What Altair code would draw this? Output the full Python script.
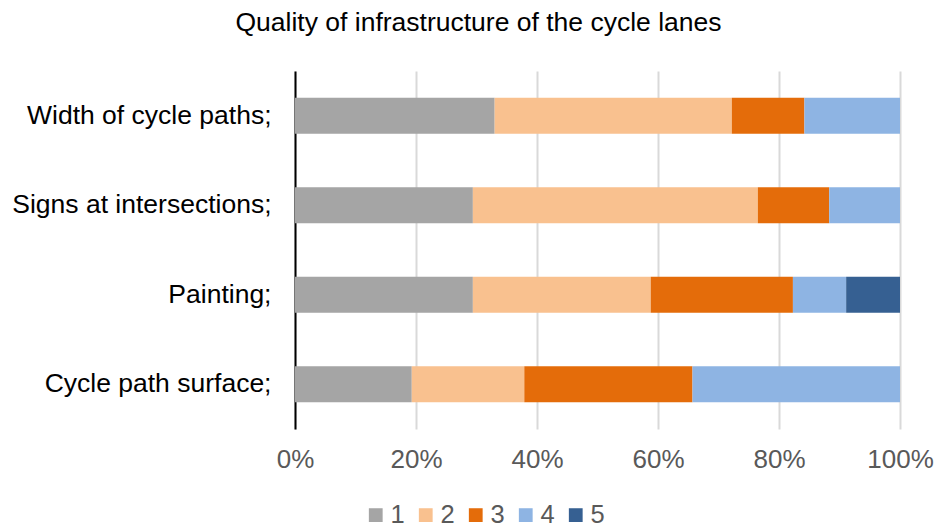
import altair as alt
import pandas as pd

categories = ["Width of cycle paths;", "Signs at intersections;", "Painting;", "Cycle path surface;"]
levels = ["1", "2", "3", "4", "5"]
s1 = [33.0, 29.4, 29.4, 19.3]
s2 = [39.2, 47.1, 29.4, 18.6]
s3 = [12.0, 11.8, 23.5, 27.8]
s4 = [15.8, 11.7, 8.8, 34.3]
s5 = [0.0, 0.0, 8.9, 0.0]
colors = ["#A5A5A5", "#F9C18F", "#E46C0A", "#8EB4E3", "#366092"]

rows = []
for series_i, vals in enumerate([s1, s2, s3, s4, s5]):
    for cat, v in zip(categories, vals):
        rows.append({"category": cat, "level": levels[series_i], "ord": series_i, "value": v})
df = pd.DataFrame(rows)

FONT = "Liberation Sans"

chart = alt.Chart(df).mark_bar().encode(
    y=alt.Y(
        "category:N", sort=categories, title=None,
        scale=alt.Scale(paddingInner=0.6, paddingOuter=0.3),
        axis=alt.Axis(labelFontSize=26.5, labelColor="black", labelFont=FONT, ticks=False,
                      domain=True, domainColor="black", domainWidth=2, labelPadding=24,
                      grid=False, labelLimit=400),
    ),
    x=alt.X(
        "value:Q", stack="normalize", title=None,
        scale=alt.Scale(domain=[0, 1]),
        axis=alt.Axis(format="%", values=[0, 0.2, 0.4, 0.6, 0.8, 1], grid=True,
                      gridColor="#D9D9D9", gridWidth=2, domain=False, ticks=False,
                      labelFlush=False,
                      labelFontSize=26, labelColor="#595959", labelFont=FONT, labelPadding=17),
    ),
    color=alt.Color(
        "level:N", scale=alt.Scale(domain=levels, range=colors),
        legend=alt.Legend(orient="none", legendX=68, legendY=431, direction="horizontal",
                          title=None, symbolType="square", symbolSize=190,
                          symbolStrokeWidth=0, labelFontSize=25.5, labelColor="#595959",
                          labelFont=FONT, columnPadding=8, labelOffset=2),
    ),
    order=alt.Order("ord:Q"),
).properties(
    width=605, height=358,
    padding={"left": 295, "top": 71, "right": 39, "bottom": 98},
    autosize=alt.AutoSizeParams(type="none"),
    title=alt.TitleParams("Quality of infrastructure of the cycle lanes", fontSize=26.5,
                          font=FONT, fontWeight="normal", color="black",
                          anchor="middle", dx=-119, offset=35),
).configure_view(stroke=None)

chart.save("out.html", embed_options={"renderer": "svg", "actions": False})
